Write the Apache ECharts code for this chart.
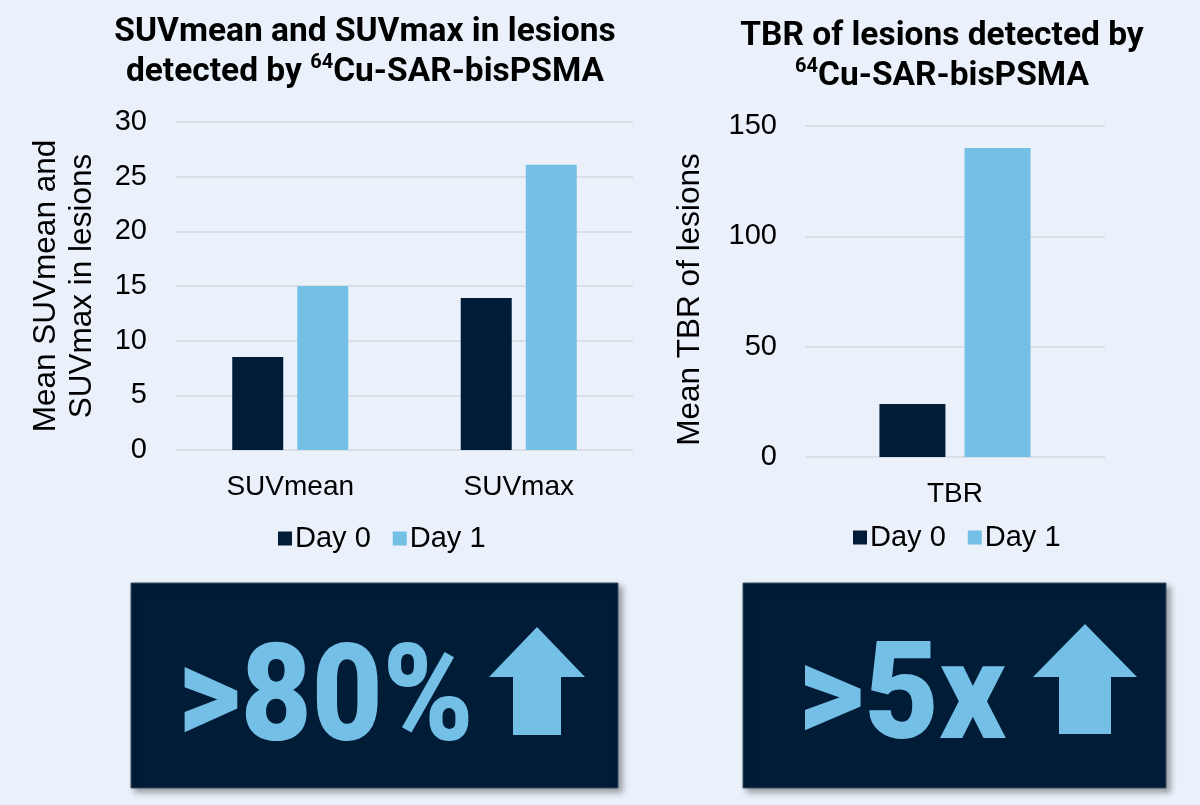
<!DOCTYPE html>
<html>
<head>
<meta charset="utf-8">
<script src="https://cdn.jsdelivr.net/npm/echarts@6/dist/echarts.min.js"></script>
<style>
html,body{margin:0;padding:0;background:#eaf1fa;}
#chart{width:1200px;height:805px;}
</style>
</head>
<body>
<div id="chart"></div>
<script>
// ---- data ----
var suvCategories = ['SUVmean', 'SUVmax'];
var suvDay0 = [8.5, 13.9];
var suvDay1 = [15.0, 26.1];
var tbrCategories = ['TBR'];
var tbrDay0 = [24.0];
var tbrDay1 = [140.0];
var seriesNames = ['Day 0', 'Day 1'];
var suvTicks = {min: 0, max: 30, interval: 5};
var tbrTicks = {min: 0, max: 150, interval: 50};
var calloutLeft = '>80%';
var calloutRight = '>5x';

var DARK = '#011c37';
var LIGHT = '#74bfe6';
var AX_FONT = '"Liberation Sans", Arial, sans-serif';
var TITLE_FONT = 'Roboto, "Noto Sans", sans-serif';

var chart = echarts.init(document.getElementById('chart'), null, {renderer: 'canvas'});

function titleRich() {
  return {
    t: {fontFamily: TITLE_FONT, fontWeight: 'bold', fontSize: 33.5, lineHeight: 40, color: '#000'},
    sup: {fontFamily: TITLE_FONT, fontWeight: 'bold', fontSize: 20, lineHeight: 27, verticalAlign: 'top', color: '#000'}
  };
}

function arrow(cx, tipY, baseY, bottomY, headHalf, shaftHalf) {
  return [[cx, tipY], [cx + headHalf, baseY], [cx + shaftHalf, baseY], [cx + shaftHalf, bottomY],
          [cx - shaftHalf, bottomY], [cx - shaftHalf, baseY], [cx - headHalf, baseY]];
}

var legendText = {fontFamily: AX_FONT, fontSize: 29, color: '#000', padding: [0, 0, 0, -2]};

var option = {
  backgroundColor: '#eaf1fa',
  animation: false,
  title: [
    {
      text: '{t|SUVmean and SUVmax in lesions}\n{t|detected by }{sup|64}{t|Cu-SAR-bisPSMA}',
      left: 360, top: 8, textAlign: 'center',
      textStyle: {rich: titleRich(), align: 'center'}
    },
    {
      text: '{t|TBR of lesions detected by}\n{sup|64}{t|Cu-SAR-bisPSMA}',
      left: 937, top: 12, textAlign: 'center',
      textStyle: {rich: titleRich(), align: 'center'}
    }
  ],
  legend: [
    {
      data: seriesNames, left: 278, top: 524, icon: 'rect', itemWidth: 14, itemHeight: 14, itemGap: 22,
      padding: 0, textStyle: legendText
    },
    {
      data: seriesNames, left: 853, top: 523, icon: 'rect', itemWidth: 14, itemHeight: 14, itemGap: 22,
      padding: 0, textStyle: legendText
    }
  ],
  grid: [
    {left: 176, right: 567, top: 122, bottom: 355},
    {left: 805, right: 95, top: 126, bottom: 348}
  ],
  xAxis: [
    {
      type: 'category', gridIndex: 0, data: suvCategories,
      axisLine: {show: false}, axisTick: {show: false},
      axisLabel: {fontFamily: AX_FONT, fontSize: 28, color: '#000', margin: 23}
    },
    {
      type: 'category', gridIndex: 1, data: tbrCategories,
      axisLine: {show: false}, axisTick: {show: false},
      axisLabel: {fontFamily: AX_FONT, fontSize: 28, color: '#000', margin: 23}
    }
  ],
  yAxis: [
    {
      type: 'value', gridIndex: 0, min: suvTicks.min, max: suvTicks.max, interval: suvTicks.interval,
      axisLine: {show: false}, axisTick: {show: false},
      axisLabel: {fontFamily: AX_FONT, fontSize: 29, color: '#000', margin: 29},
      splitLine: {lineStyle: {color: '#d6d9de', width: 1.5}},
      name: 'Mean SUVmean and\nSUVmax in lesions', nameLocation: 'middle', nameRotate: 90, nameGap: 76,
      nameTextStyle: {fontFamily: AX_FONT, fontSize: 31.5, color: '#000', lineHeight: 36}
    },
    {
      type: 'value', gridIndex: 1, min: tbrTicks.min, max: tbrTicks.max, interval: tbrTicks.interval,
      axisLine: {show: false}, axisTick: {show: false},
      axisLabel: {fontFamily: AX_FONT, fontSize: 29, color: '#000', margin: 28},
      splitLine: {lineStyle: {color: '#d6d9de', width: 1.5}},
      name: 'Mean TBR of lesions', nameLocation: 'middle', nameRotate: 90, nameGap: 99,
      nameTextStyle: {fontFamily: AX_FONT, fontSize: 31.5, color: '#000', padding: [0, 16, 0, 0]}
    }
  ],
  series: [
    {name: seriesNames[0], type: 'bar', xAxisIndex: 0, yAxisIndex: 0, data: suvDay0,
     barWidth: 51, barGap: '27.5%', itemStyle: {color: DARK}},
    {name: seriesNames[1], type: 'bar', xAxisIndex: 0, yAxisIndex: 0, data: suvDay1,
     barWidth: 51, barGap: '27.5%', itemStyle: {color: LIGHT}},
    {name: seriesNames[0], type: 'bar', xAxisIndex: 1, yAxisIndex: 1, data: tbrDay0,
     barWidth: 66, barGap: '29%', itemStyle: {color: DARK}},
    {name: seriesNames[1], type: 'bar', xAxisIndex: 1, yAxisIndex: 1, data: tbrDay1,
     barWidth: 66, barGap: '29%', itemStyle: {color: LIGHT}}
  ],
  graphic: [
    {type: 'rect', shape: {x: 131, y: 583, width: 487, height: 205},
     style: {fill: DARK, stroke: '#3a4e66', lineWidth: 1, shadowBlur: 6, shadowOffsetX: 4, shadowOffsetY: 4, shadowColor: 'rgba(0,0,0,0.35)'}},
    {type: 'rect', shape: {x: 743, y: 583, width: 423, height: 205},
     style: {fill: DARK, stroke: '#3a4e66', lineWidth: 1, shadowBlur: 6, shadowOffsetX: 4, shadowOffsetY: 4, shadowColor: 'rgba(0,0,0,0.35)'}},
    {type: 'text', x: 178, y: 706, scaleX: 0.9,
     style: {text: calloutLeft, fill: LIGHT, font: '900 136px Roboto, sans-serif', verticalAlign: 'middle', align: 'left'}},
    {type: 'text', x: 798, y: 704, scaleX: 0.95,
     style: {text: calloutRight, fill: LIGHT, font: '900 136px Roboto, sans-serif', verticalAlign: 'middle', align: 'left'}},
    {type: 'polygon', shape: {points: arrow(537, 627, 677, 735, 48, 24)}, style: {fill: LIGHT}},
    {type: 'polygon', shape: {points: arrow(1085, 624, 677, 734, 52, 26)}, style: {fill: LIGHT}}
  ]
};
chart.setOption(option);
</script>
</body>
</html>
